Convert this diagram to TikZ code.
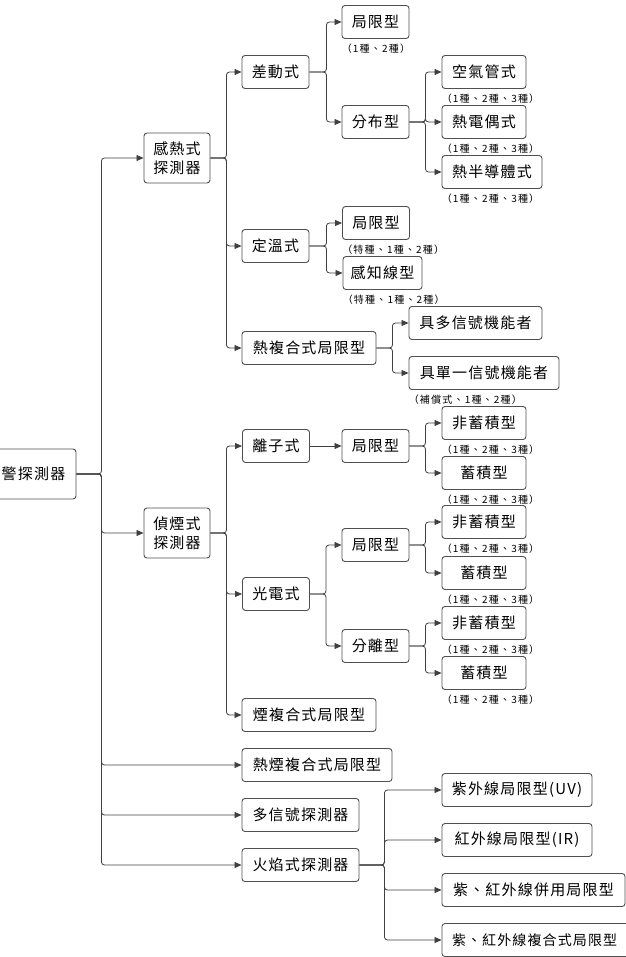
\documentclass[tikz,border=0pt]{standalone}
\usepackage{fontspec}
\usepackage{tikz}
\usetikzlibrary{arrows.meta}
\newfontfamily\cjk[LetterSpace=8]{Noto Sans CJK TC}
\newfontfamily\cjknote[LetterSpace=12]{Noto Sans CJK TC}
\definecolor{boxline}{HTML}{505050}
\definecolor{wire}{HTML}{404040}
\tikzset{
  box/.style   ={draw=boxline, rounded corners=3pt, minimum height=33pt,
                 inner sep=1pt, align=center, fill=white, line width=0.9pt,
                 font=\cjk\fontsize{15}{19}\selectfont},
  % two-line detector box
  tallbox/.style={box, minimum height=50pt},
  flow/.style  ={-{Triangle[length=7pt,width=6pt]}, draw=wire,
                 rounded corners=3pt, line width=0.8pt},
  note/.style  ={anchor=north west, inner sep=0pt, yshift=-5pt,
                 font=\cjknote\fontsize{10}{12}\selectfont},
}

\begin{document}
\begin{tikzpicture}[x=1pt, y=-1pt]
  \useasboundingbox (0,0) rectangle (625,957);
  % root (cut at the left edge)
  \node[box, minimum width=100pt, minimum height=50pt] (root) at (26,474) {\phantom{火}警探測器};
  % heat detectors
  \node[tallbox, minimum width=66pt] (hot) at (177,158) {感熱式\\探測器};
  \node[box, minimum width=67pt] (rate) at (275.5,72) {差動式};
  \node[box, minimum width=67pt] (rateSpot) at (375.5,22) {局限型};
  \node[note] at (rateSpot.south west) {（1種、2種）};
  \node[box, minimum width=67pt] (rateDist) at (375.5,122) {分布型};
  \node[box, minimum width=84pt] (airTube) at (484,72) {空氣管式};
  \node[note] at (airTube.south west) {（1種、2種、3種）};
  \node[box, minimum width=84pt] (thermo) at (484,122) {熱電偶式};
  \node[note] at (thermo.south west) {（1種、2種、3種）};
  \node[box, minimum width=100pt] (semi) at (492,172) {熱半導體式};
  \node[note] at (semi.south west) {（1種、2種、3種）};
  \node[box, minimum width=67pt] (fixed) at (275.5,246) {定溫式};
  \node[box, minimum width=67pt] (fixSpot) at (376,223) {局限型};
  \node[note] at (fixSpot.south west) {（特種、1種、2種）};
  \node[box, minimum width=79pt] (fixLine) at (382.5,273) {感知線型};
  \node[note] at (fixLine.south west) {（特種、1種、2種）};
  \node[box, minimum width=134pt] (heatComb) at (309,348) {熱複合式局限型};
  \node[box, minimum width=133pt] (multi) at (475.5,323) {具多信號機能者};
  \node[box, minimum width=150pt] (single) at (484,373) {具單一信號機能者};
  \node[note] at (single.south west) {（補償式、1種、2種）};
  % smoke detectors
  \node[tallbox, minimum width=66pt] (smoke) at (177,533) {偵煙式\\探測器};
  \node[box, minimum width=67pt] (ion) at (276,446) {離子式};
  \node[box, minimum width=67pt] (ionSpot) at (375.5,446) {局限型};
  \node[box, minimum width=84pt] (ionNon) at (484,423) {非蓄積型};
  \node[note] at (ionNon.south west) {（1種、2種、3種）};
  \node[box, minimum width=84pt] (ionAcc) at (484,473) {蓄積型};
  \node[note] at (ionAcc.south west) {（1種、2種、3種）};
  \node[box, minimum width=67pt] (photo) at (276,594) {光電式};
  \node[box, minimum width=67pt] (phSpot) at (375.5,545) {局限型};
  \node[box, minimum width=84pt] (phSpotNon) at (484,522) {非蓄積型};
  \node[note] at (phSpotNon.south west) {（1種、2種、3種）};
  \node[box, minimum width=84pt] (phSpotAcc) at (484,573) {蓄積型};
  \node[note] at (phSpotAcc.south west) {（1種、2種、3種）};
  \node[box, minimum width=67pt] (phSep) at (375.5,646) {分離型};
  \node[box, minimum width=84pt] (phSepNon) at (484,623) {非蓄積型};
  \node[note] at (phSepNon.south west) {（1種、2種、3種）};
  \node[box, minimum width=84pt] (phSepAcc) at (484,673) {蓄積型};
  \node[note] at (phSepAcc.south west) {（1種、2種、3種）};
  \node[box, minimum width=134pt] (smokeComb) at (309,715) {煙複合式局限型};
  % other detectors
  \node[box, minimum width=150pt] (heatSmoke) at (317,765) {熱煙複合式局限型};
  \node[box, minimum width=117pt] (multiSig) at (300.5,815) {多信號探測器};
  \node[box, minimum width=117pt] (flame) at (300.5,865) {火焰式探測器};
  \node[box, minimum width=150pt] (uv) at (517,790) {紫外線局限型(UV)};
  \node[box, minimum width=150pt] (ir) at (517,840) {紅外線局限型(IR)};
  \node[box, minimum width=183pt] (uvir) at (533.5,890) {紫、紅外線併用局限型};
  % runs past the right edge, text kept inside
  \node[box, inner xsep=10pt, text width=180pt, align=left,
        font=\cjk\fontsize{14}{19}\selectfont] (uvirComb) at (542,940) {紫、紅外線複合式局限型};
  % connectors
  \foreach \c in {hot,smoke,heatSmoke,multiSig,flame}
    \draw[flow] (root.east) -- ++(25,0) |- (\c.west);
  \foreach \c in {rate,fixed,heatComb}
    \draw[flow] (hot.east) -- ++(16,0) |- (\c.west);
  \foreach \c in {ion,photo,smokeComb}
    \draw[flow] (smoke.east) -- ++(16,0) |- (\c.west);
  \foreach \c in {rateSpot,rateDist}
    \draw[flow] (rate.east) -- ++(17,0) |- (\c.west);
  \foreach \c in {airTube,thermo,semi}
    \draw[flow] (rateDist.east) -- ++(16,0) |- (\c.west);
  \foreach \c in {fixSpot,fixLine}
    \draw[flow] (fixed.east) -- ++(17,0) |- (\c.west);
  \foreach \c in {multi,single}
    \draw[flow] (heatComb.east) -- ++(16,0) |- (\c.west);
  \draw[flow] (ion.east) -- (ionSpot.west);
  \foreach \c in {ionNon,ionAcc}
    \draw[flow] (ionSpot.east) -- ++(16,0) |- (\c.west);
  \foreach \c in {phSpot,phSep}
    \draw[flow] (photo.east) -- ++(16,0) |- (\c.west);
  \foreach \c in {phSpotNon,phSpotAcc}
    \draw[flow] (phSpot.east) -- ++(16,0) |- (\c.west);
  \foreach \c in {phSepNon,phSepAcc}
    \draw[flow] (phSep.east) -- ++(16,0) |- (\c.west);
  \foreach \c in {uv,ir,uvir,uvirComb}
    \draw[flow] (flame.east) -- ++(25,0) |- (\c.west);
\end{tikzpicture}
\end{document}
